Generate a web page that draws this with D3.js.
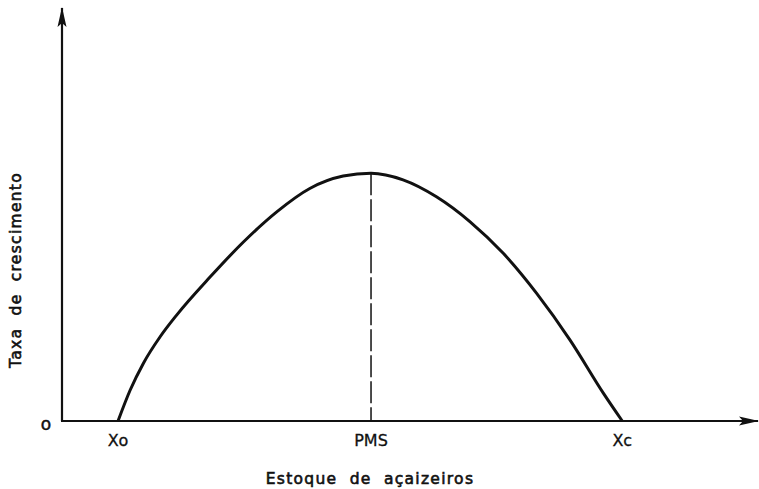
<!DOCTYPE html>
<html>
<head>
<meta charset="utf-8">
<script src="https://cdn.jsdelivr.net/npm/d3@7"></script>
<style>
  html, body { margin: 0; padding: 0; background: #fff; }
  svg { display: block; }
  text { font-family: "DejaVu Sans", sans-serif; fill: #111; }
</style>
</head>
<body>
<svg id="chart" width="759" height="489"></svg>
<script>
// Data (arbitrary units)
const stock  = [8.05, 9.8, 11.7, 14.1, 16.5, 21.3, 26.1, 30.9, 35.6, 40.4, 44.4, 49.0, 53.8, 58.6, 63.4, 68.2, 73.0, 77.8, 80.5];
const growth = [0, 7.5, 14.0, 20.4, 25.7, 34.9, 43.4, 50.7, 56.3, 59.3, 60.0, 58.4, 54.3, 48.3, 40.6, 30.9, 19.6, 6.7, 0];
const tickValues = [8.05, 44.4, 80.5];
const tickLabels = ["Xo", "PMS", "Xc"];
const pmsStock = 44.4;
const pmsGrowth = 60.0;
const xTitle = "Estoque de açaizeiros";
const yTitle = "Taxa de crescimento";
const originLabel = "o";

const svg = d3.select("#chart");
const x = d3.scaleLinear().domain([0, 100]).range([62, 758]);
const y = d3.scaleLinear().domain([0, 100]).range([421, 8]);

// arrow markers
const defs = svg.append("defs");
defs.append("marker")
  .attr("id", "arrow")
  .attr("viewBox", "0 0 20 10")
  .attr("refX", 19).attr("refY", 5)
  .attr("markerWidth", 20).attr("markerHeight", 10)
  .attr("markerUnits", "userSpaceOnUse")
  .attr("orient", "auto")
  .append("path")
  .attr("d", "M0,0.5 L20,5 L0,9.5 L4,5 Z")
  .attr("fill", "#111");

// axes
svg.append("line")
  .attr("x1", x(0)).attr("y1", y(0))
  .attr("x2", x(0)).attr("y2", y(100))
  .attr("stroke", "#111").attr("stroke-width", 2.2)
  .attr("marker-end", "url(#arrow)");
svg.append("line")
  .attr("x1", x(0) - 1).attr("y1", y(0))
  .attr("x2", x(100)).attr("y2", y(0))
  .attr("stroke", "#111").attr("stroke-width", 2)
  .attr("marker-end", "url(#arrow)");

// PMS dashed line
svg.append("line")
  .attr("x1", x(pmsStock)).attr("y1", y(pmsGrowth))
  .attr("x2", x(pmsStock)).attr("y2", y(0))
  .attr("stroke", "#111").attr("stroke-width", 1.5)
  .attr("stroke-dasharray", "22,4");

// curve
const pts = stock.map((s, i) => [s, growth[i]]);
const line = d3.line()
  .x(d => x(d[0])).y(d => y(d[1]))
  .curve(d3.curveMonotoneX);
svg.append("path")
  .datum(pts)
  .attr("d", line)
  .attr("fill", "none")
  .attr("stroke", "#111")
  .attr("stroke-width", 3);

// tick labels
svg.selectAll("text.tick")
  .data(tickValues)
  .enter().append("text")
  .attr("class", "tick")
  .attr("x", d => x(d))
  .attr("y", 446)
  .attr("text-anchor", "middle")
  .style("font-size", "16px")
  .style("stroke", "#111").style("stroke-width", "0.3px")
  .text((d, i) => tickLabels[i]);

// origin label
svg.append("text")
  .attr("x", 46).attr("y", 430)
  .attr("text-anchor", "middle")
  .style("font-size", "17px")
  .style("stroke", "#111").style("stroke-width", "0.5px")
  .text(originLabel);

// axis titles
svg.append("text")
  .attr("x", 370).attr("y", 484)
  .attr("text-anchor", "middle")
  .style("font-size", "15.5px")
  .style("stroke", "#111").style("stroke-width", "0.6px")
  .style("letter-spacing", "1.3px")
  .style("word-spacing", "6px")
  .text(xTitle);

svg.append("text")
  .attr("transform", "translate(21,270) rotate(-90)")
  .attr("text-anchor", "middle")
  .style("font-size", "15.5px")
  .style("stroke", "#111").style("stroke-width", "0.6px")
  .style("letter-spacing", "1.3px")
  .style("word-spacing", "6px")
  .text(yTitle);
</script>
</body>
</html>
